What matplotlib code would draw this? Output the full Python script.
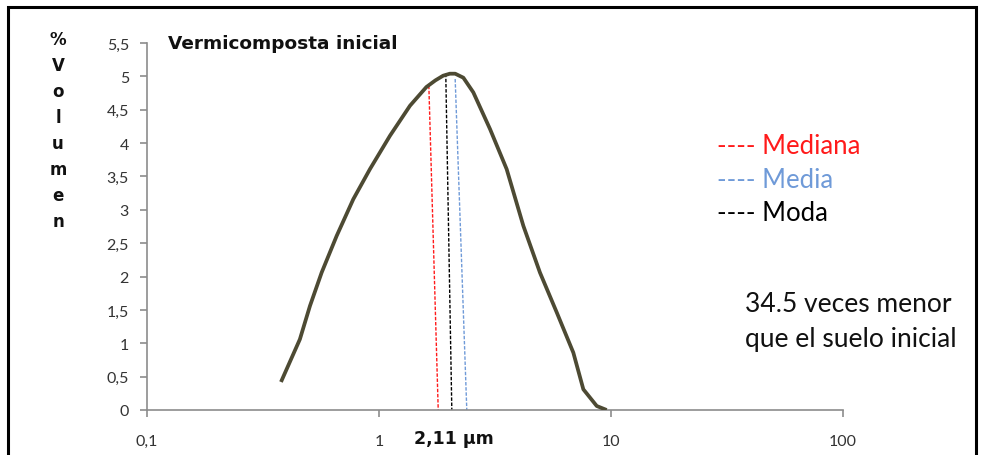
import matplotlib
matplotlib.use("Agg")
import matplotlib.pyplot as plt
from matplotlib.patches import Rectangle
from matplotlib.ticker import FixedLocator, NullLocator

# particle size distribution (log x)
size_um = [0.378, 0.456, 0.504, 0.566, 0.657, 0.775, 0.914, 1.115, 1.36, 1.60, 1.75,
           1.89, 2.02, 2.13, 2.31, 2.55, 3.01, 3.55, 4.19, 4.94, 5.84, 6.88, 7.60,
           8.68, 9.58]
vol_pct = [0.42, 1.06, 1.56, 2.06, 2.61, 3.16, 3.61, 4.11, 4.56, 4.84, 4.94,
           5.01, 5.04, 5.04, 4.98, 4.76, 4.21, 3.61, 2.76, 2.06, 1.46, 0.86, 0.31,
           0.06, 0.0]

# hand-drawn marker lines: (x_top, y_top, x_bottom)
stat_names = ["Mediana", "Moda", "Media"]
stat_top_x = [1.64, 1.94, 2.13]
stat_top_y = [4.86, 5.04, 4.96]
stat_bot_x = [1.80, 2.06, 2.39]
stat_colors = ["#ff1a1a", "#000000", "#6f9ad8"]

xticks = [0.1, 1, 10, 100]
xtick_labels = ["0,1", "1", "10", "100"]
yticks = [0, 0.5, 1, 1.5, 2, 2.5, 3, 3.5, 4, 4.5, 5, 5.5]
ytick_labels = ["0", "0,5", "1", "1,5", "2", "2,5", "3", "3,5", "4", "4,5", "5", "5,5"]

plt.rcParams["font.family"] = ["Lato", "DejaVu Sans"]
BOLD = ["DejaVu Sans"]

fig = plt.figure(figsize=(9.84, 4.56), dpi=100)
W, H = 984, 456
ax = fig.add_axes([147 / W, 1 - 411 / H, (843 - 147) / W, (411 - 44) / H])

ax.plot(size_um, vol_pct, color="#4d4a33", lw=2.7, solid_joinstyle="round",
        solid_capstyle="butt", zorder=3)
for xt, yt, xb, c in zip(stat_top_x, stat_top_y, stat_bot_x, stat_colors):
    ax.plot([xt, xb], [yt, 0], color=c, lw=1.0, ls=(0, (2.5, 1.2)), zorder=2)

ax.set_xscale("log")
ax.set_xlim(0.1, 100)
ax.set_ylim(0, 5.5)
ax.xaxis.set_major_locator(FixedLocator(xticks))
ax.xaxis.set_minor_locator(NullLocator())
ax.set_xticklabels(xtick_labels)
ax.set_yticks(yticks)
ax.set_yticklabels(ytick_labels)
for s in ["top", "right"]:
    ax.spines[s].set_visible(False)
for s in ["left", "bottom"]:
    ax.spines[s].set_color("#8c8c8c")
    ax.spines[s].set_linewidth(1.2)
ax.tick_params(direction="out", length=5, width=1.2, color="#8c8c8c",
               labelcolor="#333333", labelsize=11.5)
ax.tick_params(axis="x", pad=12)
ax.tick_params(axis="y", pad=8)

# title inside the plot
fig.text(168 / W, 1 - 44 / H, "Vermicomposta inicial", fontsize=13.3,
         fontweight="bold", family=BOLD, ha="left", va="center", color="#111111")

# vertical stacked y label
for i, ch in enumerate("%Volumen"):
    fig.text(58 / W, 1 - (40 + i * 26) / H, ch, fontsize=12, fontweight="bold",
             family=BOLD, ha="center", va="center", color="#111111")

# legend-like annotations
legend_rows = [("---- Mediana", "#ff1a1a", 147), ("---- Media", "#6f9ad8", 181),
               ("---- Moda", "#000000", 214)]
for txt, c, yp in legend_rows:
    fig.text(717 / W, 1 - yp / H, txt, fontsize=18.5, color=c, ha="left", va="center")

fig.text(745 / W, 1 - 305 / H, "34.5 veces menor", fontsize=19, color="#111111",
         ha="left", va="center")
fig.text(745 / W, 1 - 340 / H, "que el suelo inicial", fontsize=19, color="#111111",
         ha="left", va="center")

fig.text(454 / W, 1 - 439 / H, "2,11 µm", fontsize=12.5, fontweight="bold",
         family=BOLD, ha="center", va="center", color="#111111")

# outer frame
fig.patches.append(Rectangle((8 / W, -0.05), (976 - 8) / W, 1 - 8 / H + 0.05,
                             transform=fig.transFigure, fill=False,
                             edgecolor="black", lw=2.2))

fig.savefig("out.png", dpi=100)
